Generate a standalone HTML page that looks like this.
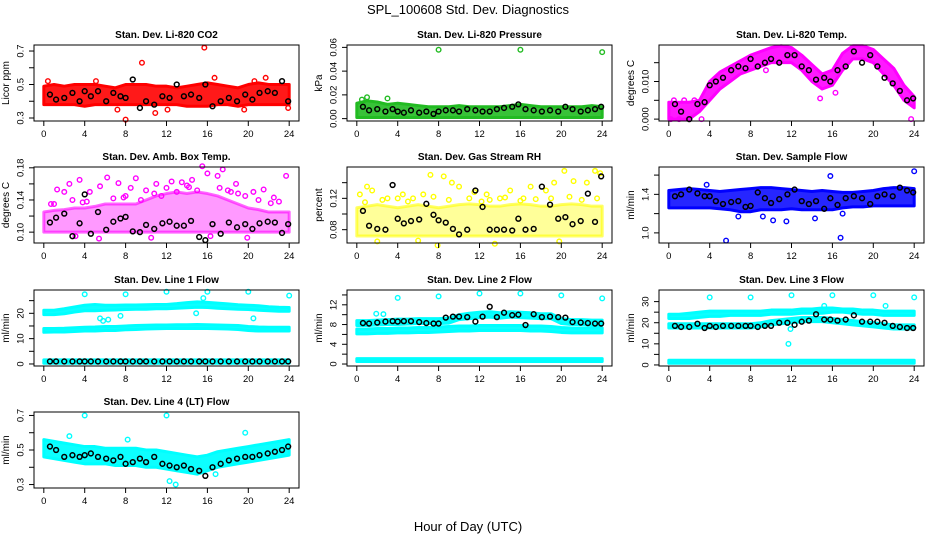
<!DOCTYPE html>
<html><head><meta charset="utf-8"><style>
body{margin:0;background:#fff}
svg{display:block;font-family:"Liberation Sans",Arial,sans-serif}
</style></head><body>
<svg id="chart" width="936" height="540" viewBox="0 0 936 540" xmlns="http://www.w3.org/2000/svg">
<text x="468" y="14" text-anchor="middle" font-size="13">SPL_100608  Std. Dev. Diagnostics</text>
<text x="468" y="531" text-anchor="middle" font-size="13">Hour of Day (UTC)</text>
</svg>
<script>
const hours = [0,1,2,3,4,5,6,7,8,9,10,11,12,13,14,15,16,17,18,19,20,21,22,23,24];
const blackHours = [0.6,1.2,2.0,2.8,3.5,4.0,4.6,5.3,6.1,6.8,7.5,8.0,8.7,9.4,10.0,10.8,11.6,12.3,13.0,13.7,14.4,15.2,15.8,16.5,17.3,18.1,18.9,19.7,20.4,21.1,21.9,22.6,23.3,23.9];
const xTicks = [0,4,8,12,16,20,24];

// Panel 1 CO2
const co2Lo = [0.38,0.38,0.38,0.38,0.37,0.38,0.38,0.38,0.38,0.38,0.38,0.38,0.38,0.38,0.37,0.37,0.37,0.38,0.38,0.37,0.38,0.38,0.38,0.38,0.38];
const co2Hi = [0.49,0.50,0.49,0.50,0.50,0.50,0.49,0.48,0.50,0.50,0.50,0.49,0.49,0.48,0.49,0.50,0.51,0.50,0.49,0.48,0.50,0.51,0.50,0.50,0.50];
const co2ExtraX = [9.6,15.7,8,10.9,7.2,21.7,16.7,12.1,23.9,0.4,5.1,20.6,19.6];
const co2ExtraY = [0.63,0.72,0.29,0.33,0.35,0.54,0.54,0.35,0.36,0.52,0.52,0.52,0.35];
const co2Black = [0.44,0.41,0.42,0.45,0.40,0.46,0.43,0.46,0.40,0.45,0.43,0.42,0.53,0.36,0.40,0.38,0.43,0.42,0.50,0.43,0.44,0.42,0.50,0.37,0.40,0.42,0.40,0.44,0.41,0.45,0.46,0.45,0.52,0.40];
// Panel 2 Pressure
const prLo = [0.001,0.001,0.001,0.001,0.001,0.001,0.001,0.001,0.001,0.001,0.001,0.001,0.001,0.001,0.001,0.001,0.001,0.001,0.001,0.001,0.001,0.001,0.001,0.001,0.001];
const prHi = [0.013,0.015,0.014,0.012,0.013,0.012,0.011,0.010,0.010,0.010,0.011,0.010,0.010,0.010,0.010,0.011,0.012,0.011,0.010,0.010,0.010,0.010,0.010,0.011,0.010];
const prExtraX = [8,16,24,1,3,0.5];
const prExtraY = [0.058,0.058,0.056,0.018,0.017,0.016];
const prBlack = [0.010,0.007,0.008,0.006,0.008,0.006,0.005,0.007,0.005,0.006,0.004,0.006,0.007,0.007,0.006,0.008,0.007,0.006,0.006,0.008,0.009,0.010,0.012,0.008,0.007,0.006,0.007,0.006,0.010,0.008,0.006,0.007,0.008,0.010];
// Panel 3 Li-820 Temp
const tLo = [0,0,0,0.002,0.005,0.008,0.010,0.012,0.013,0.014,0.015,0.015,0.015,0.013,0.010,0.008,0.009,0.013,0.016,0.016,0.015,0.012,0.009,0.005,0.003];
const tHi = [0.0045,0.0045,0.0045,0.005,0.010,0.0125,0.014,0.0155,0.017,0.018,0.019,0.0195,0.019,0.017,0.0145,0.012,0.013,0.0175,0.0195,0.0195,0.0185,0.016,0.0135,0.009,0.006];
const tExtraX = [0.2,1,2,3.2,9.5,14.8,16.3,23.7,0.5,1.5,2.5];
const tExtraY = [0,0,0,0,0.013,0.0055,0.007,0,0.005,0.005,0.005];
const tBlack = [0.004,0.002,0,0.004,0.0045,0.009,0.010,0.011,0.013,0.014,0.0135,0.016,0.014,0.015,0.016,0.015,0.017,0.017,0.014,0.013,0.0105,0.011,0.010,0.013,0.014,0.018,0.015,0.017,0.014,0.011,0.0095,0.0075,0.005,0.0055];
// Panel 4 Amb Box Temp
const bxLo = [0.10,0.10,0.10,0.10,0.10,0.10,0.10,0.10,0.10,0.10,0.10,0.10,0.10,0.10,0.10,0.10,0.10,0.10,0.10,0.10,0.10,0.10,0.10,0.10,0.10];
const bxHi = [0.125,0.127,0.128,0.13,0.13,0.132,0.135,0.135,0.135,0.135,0.14,0.145,0.148,0.15,0.148,0.15,0.148,0.145,0.14,0.135,0.13,0.128,0.125,0.125,0.125];
const bxExtraX = [1.3,2,2.5,3.5,4.5,5.5,6.2,7.3,8,9,10,11,12.5,13.5,14.5,15.5,16,17,17.5,18.8,19.7,20.5,21.5,22.5,23.7,5.4,3.1,10.5,16.3,19.9,8.5,12,14,18,0.7,2.8,4.2,6.8,9.5,11.5,13,15,17.2,19,21,23,1,3.8,7.8,10.8,14.2,18.3,22.2];
const bxExtraY = [0.153,0.15,0.16,0.165,0.15,0.157,0.168,0.161,0.145,0.167,0.152,0.16,0.163,0.162,0.165,0.182,0.173,0.17,0.178,0.16,0.145,0.15,0.153,0.143,0.17,0.092,0.095,0.093,0.095,0.093,0.155,0.155,0.158,0.152,0.135,0.14,0.138,0.142,0.14,0.145,0.15,0.152,0.155,0.148,0.14,0.138,0.135,0.137,0.143,0.148,0.156,0.15,0.136];
const bxBlack = [0.112,0.118,0.123,0.095,0.111,0.147,0.098,0.125,0.103,0.113,0.117,0.119,0.101,0.100,0.109,0.104,0.111,0.113,0.108,0.108,0.114,0.094,0.090,0.110,0.098,0.112,0.106,0.110,0.104,0.111,0.113,0.112,0.099,0.110];
// Panel 5 Gas Stream RH
const rhLo = [0.072,0.072,0.072,0.072,0.072,0.072,0.072,0.072,0.072,0.072,0.072,0.072,0.072,0.072,0.072,0.072,0.072,0.072,0.072,0.072,0.072,0.072,0.072,0.072,0.072];
const rhHi = [0.108,0.11,0.112,0.11,0.108,0.11,0.112,0.11,0.108,0.11,0.112,0.113,0.112,0.11,0.11,0.112,0.113,0.112,0.11,0.11,0.112,0.113,0.112,0.11,0.11];
const rhExtraX = [0.3,1,1.5,3,4.5,5.5,6.5,7.2,8.5,9.3,10,11.5,12.7,14,15,16.3,17,18.5,19.3,20.3,21.2,22.5,23.3,23.8,2,7.9,13.5,19.8,6,0.8,2.5,4,5,7.5,9,11,12.2,13,14.5,16,17.5,19,20.8,22,23.5];
const rhExtraY = [0.125,0.135,0.13,0.12,0.125,0.12,0.125,0.15,0.148,0.14,0.135,0.128,0.125,0.12,0.13,0.12,0.135,0.13,0.14,0.155,0.142,0.14,0.155,0.152,0.065,0.06,0.062,0.065,0.066,0.115,0.118,0.12,0.116,0.122,0.118,0.12,0.116,0.118,0.121,0.117,0.119,0.12,0.122,0.118,0.12];
const rhBlack = [0.104,0.085,0.081,0.080,0.137,0.094,0.088,0.091,0.093,0.113,0.099,0.092,0.089,0.081,0.074,0.080,0.130,0.109,0.080,0.080,0.080,0.079,0.094,0.080,0.081,0.135,0.112,0.094,0.096,0.087,0.091,0.126,0.090,0.148];
// Panel 6 Sample Flow
const sfLo = [1.26,1.26,1.26,1.26,1.26,1.25,1.24,1.22,1.22,1.24,1.24,1.24,1.25,1.24,1.24,1.24,1.24,1.26,1.27,1.27,1.28,1.28,1.28,1.28,1.28];
const sfHi = [1.44,1.45,1.46,1.45,1.44,1.43,1.44,1.45,1.46,1.47,1.47,1.46,1.45,1.44,1.43,1.44,1.43,1.42,1.42,1.43,1.44,1.46,1.47,1.47,1.46];
const sfExtraX = [5.6,15.8,16.8,24,10.2,11.5,9.2,14.3,3.7,17,6.8];
const sfExtraY = [0.92,1.59,0.95,1.64,1.13,1.12,1.17,1.15,1.5,1.2,1.17];
const sfBlack = [1.38,1.4,1.45,1.41,1.38,1.38,1.33,1.3,1.32,1.33,1.27,1.28,1.42,1.36,1.31,1.35,1.4,1.45,1.33,1.3,1.33,1.25,1.36,1.29,1.36,1.38,1.36,1.3,1.38,1.4,1.38,1.47,1.44,1.42];
// Panel 7 Line 1 Flow
const l1aLo = [19.5,19.5,19.8,20.5,21,21,21.2,21.3,21.5,21.6,21.6,21.8,21.8,22,22.2,22.4,22.3,22,21.8,21.6,21.5,21.2,21,20.8,20.8];
const l1aHi = [21.2,21.2,21.8,22.5,23.2,23.5,23.2,23.2,23.3,23.3,23.4,23.5,23.5,23.8,24.2,24.5,24.3,24,23.7,23.4,23.2,23,22.6,22.4,22.3];
const l1bLo = [12.5,12.6,12.6,12.8,13,13,13.2,13.2,13.5,13.6,13.8,13.9,14,14,14,14,14,13.9,13.8,13.6,13.2,13,13,13,13];
const l1bHi = [14,14,14.1,14.3,14.5,14.6,14.8,14.8,15,15.2,15.3,15.4,15.4,15.5,15.5,15.6,15.5,15.4,15.3,15.2,14.8,14.6,14.5,14.5,14.5];
const l1cLo = [0.3,0.3,0.3,0.3,0.3,0.3,0.3,0.3,0.3,0.3,0.3,0.3,0.3,0.3,0.3,0.3,0.3,0.3,0.3,0.3,0.3,0.3,0.3,0.3,0.3];
const l1cHi = [1.6,1.6,1.6,1.6,1.6,1.6,1.6,1.6,1.6,1.6,1.6,1.6,1.6,1.6,1.6,1.6,1.6,1.6,1.6,1.6,1.6,1.6,1.6,1.6,1.6];
const l1ExtraX = [4,8,12,16,20,24,5.5,5.8,6.3,7.5,14.9,20.5,15.6];
const l1ExtraY = [27.5,27.5,28.5,28.5,28.5,27,18,17,17.5,19,20,18,26];
const l1Black = [1,1,1,1,1,1,1,1,1,1,1,1,1,1,1,1,1,1,1,1,1,1,1,1,1,1,1,1,1,1,1,1,1,1];
// Panel 8 Line 2 Flow
const l2aLo = [7.8,7.8,7.9,8,8,8.1,8.2,8.2,8.2,8.3,9,9.2,9.4,9.5,9.3,9.5,9.4,9.3,9.2,9.2,8.2,8,8,7.9,7.9];
const l2aHi = [8.8,8.8,8.9,9,9.1,9.1,9.2,9.2,9.2,9.3,10,10.3,10.5,10.6,10.4,10.6,10.5,10.4,10.2,10.2,9.2,9,9,8.9,8.9];
const l2bLo = [6.1,6.1,6.2,6.2,6.3,6.3,6.4,6.4,6.5,6.6,6.7,6.7,6.8,6.8,6.8,6.8,6.8,6.7,6.7,6.6,6.4,6.3,6.3,6.3,6.3];
const l2bHi = [7.1,7.1,7.2,7.2,7.3,7.3,7.4,7.4,7.5,7.6,7.7,7.7,7.8,7.8,7.8,7.8,7.8,7.7,7.7,7.6,7.4,7.3,7.3,7.3,7.3];
const l2cLo = [0.5,0.5,0.5,0.5,0.5,0.5,0.5,0.5,0.5,0.5,0.5,0.5,0.5,0.5,0.5,0.5,0.5,0.5,0.5,0.5,0.5,0.5,0.5,0.5,0.5];
const l2cHi = [1.1,1.1,1.1,1.1,1.1,1.1,1.1,1.1,1.1,1.1,1.1,1.1,1.1,1.1,1.1,1.1,1.1,1.1,1.1,1.1,1.1,1.1,1.1,1.1,1.1];
const l2ExtraX = [4,8,12,16,20,24,1.9,2.6];
const l2ExtraY = [13.4,13.7,14.3,14.3,13.9,13.3,10.2,10.1];
const l2Black = [8.3,8.2,8.4,8.6,8.7,8.6,8.7,8.7,8.5,8.3,8.2,8.2,9.4,9.6,9.6,9.5,8.6,9.6,11.6,9.5,10.4,9.9,10,7.9,10.1,9.5,9.6,9.5,9.4,8.5,8.4,8.3,8.2,8.2];
// Panel 9 Line 3 Flow
const l3aLo = [22,22,22,22.5,23,23,23.5,23.5,23.5,23.5,24,24,24,24.5,24.5,24.5,25,25,24.5,24,24,23.5,23.5,23.5,23.5];
const l3aHi = [24,24,24.5,25,25.5,25.5,25.5,25.5,25.5,25.5,26,26,26,26.5,26.5,27,27,26.5,26.5,26,26,25.5,25.5,25.5,25.5];
const l3bLo = [17.5,17.5,17.5,17.5,17.5,17.5,17.5,17.5,17.5,18,19,19.5,20,20.5,20.5,20.5,20,19.5,19,18.5,18,17.5,17,17,17];
const l3bHi = [19.5,19.5,19.5,19.5,19.5,19.5,19.5,19.5,19.5,20,21,21.5,22,22.5,22.5,22.5,22,21.5,21,20.5,20,19.5,19,19,19];
const l3cLo = [0.8,0.8,0.8,0.8,0.8,0.8,0.8,0.8,0.8,0.8,0.8,0.8,0.8,0.8,0.8,0.8,0.8,0.8,0.8,0.8,0.8,0.8,0.8,0.8,0.8];
const l3cHi = [2.2,2.2,2.2,2.2,2.2,2.2,2.2,2.2,2.2,2.2,2.2,2.2,2.2,2.2,2.2,2.2,2.2,2.2,2.2,2.2,2.2,2.2,2.2,2.2,2.2];
const l3ExtraX = [4,8,12,16,20,24,11.7,11.9,15.2,21.2];
const l3ExtraY = [32,32,33,33,33,32,10,17,28,28];
const l3Black = [18.5,18,18,19.5,17.5,18.5,18,18.5,18.5,18.5,18.5,18.5,18,18.5,18.5,20,20,19,20.5,21,24,21.5,21.5,21,21.5,23.5,20.5,20.5,20.5,20,18.5,18,17.5,17.5];
// Panel 10 Line 4 (LT) Flow
const l4Lo = [0.46,0.45,0.44,0.43,0.42,0.42,0.42,0.41,0.41,0.41,0.40,0.40,0.39,0.38,0.37,0.36,0.38,0.40,0.41,0.42,0.43,0.44,0.45,0.46,0.47];
const l4Hi = [0.56,0.55,0.54,0.53,0.52,0.52,0.51,0.51,0.51,0.51,0.50,0.50,0.49,0.48,0.47,0.46,0.47,0.49,0.50,0.51,0.52,0.53,0.54,0.55,0.56];
const l4ExtraX = [4,12,19.7,12.9,12.3,2.5,8.2,16.8];
const l4ExtraY = [0.7,0.7,0.6,0.3,0.32,0.58,0.56,0.36];
const l4Black = [0.52,0.5,0.46,0.47,0.46,0.47,0.48,0.46,0.45,0.44,0.46,0.42,0.43,0.45,0.43,0.46,0.42,0.41,0.4,0.41,0.39,0.38,0.35,0.4,0.42,0.44,0.45,0.46,0.46,0.47,0.48,0.49,0.5,0.52];

const NS = 'http://www.w3.org/2000/svg';
const svg = document.getElementById('chart');
function mk(tag, attrs, parent){const e=document.createElementNS(NS,tag);for(const k in attrs)e.setAttribute(k,attrs[k]);(parent||svg).appendChild(e);return e;}

const colL=[34,347,659], rowT=[45,167,290,412], PW=265, PH=76;
const panels = [
 {name:'co2',title:'Stan. Dev. Li-820 CO2',yl:'Licor ppm',c:0,r:0,dom:[0.282,0.736],ticks:[0.3,0.4,0.5,0.6,0.7],labels:[0.3,0.5,0.7],fmt:1,col:'#ff0000',bands:[[co2Lo,co2Hi]],ex:co2ExtraX,ey:co2ExtraY,bk:co2Black,op:0.9},
 {name:'pressure',title:'Stan. Dev. Li-820 Pressure',yl:'kPa',c:1,r:0,dom:[-0.002,0.062],ticks:[0,0.02,0.04,0.06],labels:[0,0.02,0.04,0.06],fmt:2,col:'#22bb22',bands:[[prLo,prHi]],ex:prExtraX,ey:prExtraY,bk:prBlack,op:0.9},
 {name:'li820-temp',title:'Stan. Dev. Li-820 Temp.',yl:'degrees C',c:2,r:0,dom:[-0.0005,0.0197],ticks:[0,0.005,0.01,0.015],labels:[0,0.01],fmt:3,col:'#ff00ff',bands:[[tLo,tHi]],ex:tExtraX,ey:tExtraY,bk:tBlack,op:0.9},
 {name:'box-temp',title:'Stan. Dev. Amb. Box Temp.',yl:'degrees C',c:0,r:1,dom:[0.0865,0.181],ticks:[0.1,0.12,0.14,0.16,0.18],labels:[0.1,0.14,0.18],fmt:2,col:'#ff00ff',bands:[[bxLo,bxHi]],ex:bxExtraX,ey:bxExtraY,bk:bxBlack,op:0.4},
 {name:'gas-rh',title:'Stan. Dev. Gas Stream RH',yl:'percent',c:1,r:1,dom:[0.063,0.16],ticks:[0.08,0.1,0.12,0.14],labels:[0.08,0.12],fmt:2,col:'#ffff00',bands:[[rhLo,rhHi]],ex:rhExtraX,ey:rhExtraY,bk:rhBlack,op:0.4},
 {name:'sample-flow',title:'Stan. Dev. Sample Flow',yl:'ml/min',c:2,r:1,dom:[0.895,1.684],ticks:[1.0,1.2,1.4,1.6],labels:[1.0,1.4],fmt:1,col:'#0000ff',bands:[[sfLo,sfHi]],ex:sfExtraX,ey:sfExtraY,bk:sfBlack,op:0.85},
 {name:'line1-flow',title:'Stan. Dev. Line 1 Flow',yl:'ml/min',c:0,r:2,dom:[-0.8,29.2],ticks:[0,5,10,15,20,25],labels:[0,10,20],fmt:0,col:'#00ffff',bands:[[l1aLo,l1aHi],[l1bLo,l1bHi],[l1cLo,l1cHi]],ex:l1ExtraX,ey:l1ExtraY,bk:l1Black,op:0.95},
 {name:'line2-flow',title:'Stan. Dev. Line 2 Flow',yl:'ml/min',c:1,r:2,dom:[-0.4,15],ticks:[0,2,4,6,8,10,12,14],labels:[0,4,8,12],fmt:0,col:'#00ffff',bands:[[l2aLo,l2aHi],[l2bLo,l2bHi],[l2cLo,l2cHi]],ex:l2ExtraX,ey:l2ExtraY,bk:l2Black,op:0.95},
 {name:'line3-flow',title:'Stan. Dev. Line 3 Flow',yl:'ml/min',c:2,r:2,dom:[-0.5,35.5],ticks:[0,5,10,15,20,25,30],labels:[0,10,20,30],fmt:0,col:'#00ffff',bands:[[l3aLo,l3aHi],[l3bLo,l3bHi],[l3cLo,l3cHi]],ex:l3ExtraX,ey:l3ExtraY,bk:l3Black,op:0.95},
 {name:'line4-flow',title:'Stan. Dev. Line 4 (LT) Flow',yl:'ml/min',c:0,r:3,dom:[0.28,0.72],ticks:[0.3,0.4,0.5,0.6,0.7],labels:[0.3,0.5,0.7],fmt:1,col:'#00ffff',bands:[[l4Lo,l4Hi]],ex:l4ExtraX,ey:l4ExtraY,bk:l4Black,op:0.95}
];

panels.forEach(p=>{
  const L=colL[p.c], T=rowT[p.r], B=T+PH;
  const xS=h=>L+PW*(h+0.96)/25.92;
  const yS=v=>B-PH*(v-p.dom[0])/(p.dom[1]-p.dom[0]);
  const g=mk('g',{});
  
  
  const t=mk('text',{x:L+PW/2,y:T-7,'text-anchor':'middle','font-size':'10','font-weight':'bold'},g);
  t.textContent=p.title;
  
  
  const clip=mk('g',{},g);
  
  
  p.bands.forEach(bd=>{
    const [lo,hi]=bd;
    let pts=hours.map((h,i)=>xS(h)+','+yS(hi[i]));
    pts=pts.concat(hours.slice().reverse().map((h,j)=>{const i=hours.length-1-j;return xS(h)+','+yS(lo[i]);}));
    const poly=mk('polygon',{points:pts.join(' '),fill:p.col,'fill-opacity':p.op,stroke:p.col,'stroke-opacity':Math.min(1,p.op+0.2),'stroke-width':3,'stroke-linejoin':'round'},clip);
    
    
  });
  p.ex.forEach((x,i)=>{
    const c=mk('circle',{cx:xS(x),cy:yS(p.ey[i]),r:2.3,fill:'none',stroke:p.col,'stroke-width':1.4},clip);
    
    
  });
  blackHours.forEach((x,i)=>{
    const c=mk('circle',{cx:xS(x),cy:yS(p.bk[i]),r:2.4,fill:'none',stroke:'#000','stroke-width':1.5},clip);
    
    
  });
  const box=mk('rect',{x:L,y:T,width:PW,height:PH,fill:'none',stroke:'#000','stroke-width':1},g);
  
  
  xTicks.forEach(h=>{
    mk('line',{x1:xS(h),x2:xS(h),y1:B,y2:B+5,stroke:'#000'},g);
    const tl=mk('text',{x:xS(h),y:B+16,'text-anchor':'middle','font-size':'9.5'},g);
    tl.textContent=h;
    
    
  });
  p.ticks.forEach(v=>{
    mk('line',{x1:L-5,x2:L,y1:yS(v),y2:yS(v),stroke:'#000'},g);
  });
  p.labels.forEach(v=>{
    const y=yS(v);
    const tl=mk('text',{x:L-13,y:y,'text-anchor':'middle','dominant-baseline':'central','font-size':'9.5',transform:`rotate(-90 ${L-13} ${y})`},g);
    tl.textContent=v.toFixed(p.fmt);
    
    
  });
  const yt=mk('text',{x:L-25,y:T+PH/2,'text-anchor':'middle','font-size':'10',transform:`rotate(-90 ${L-25} ${T+PH/2})`},g);
  yt.textContent=p.yl;
  
  
});
</script>
</body></html>
